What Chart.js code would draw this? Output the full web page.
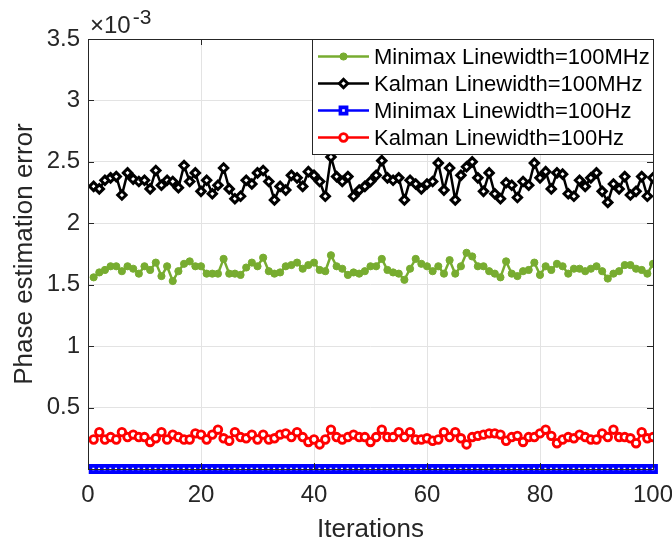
<!DOCTYPE html>
<html>
<head>
<meta charset="utf-8">
<script src="https://cdn.jsdelivr.net/npm/chart.js@4.4.1/dist/chart.umd.min.js"></script>
<style>
  html, body { margin: 0; padding: 0; background: #fff; }
  #wrap { width: 672px; height: 544px; position: relative; }
</style>
</head>
<body>
<div id="wrap"><canvas id="chart"></canvas></div>
<script>
// values are in units of 1e-3 (axis shows "x10^-3")
const iterations = Array.from({ length: 100 }, (_, i) => i + 1);

const minimax100MHz = [
  1.56, 1.60, 1.62, 1.65, 1.65, 1.61, 1.65, 1.63, 1.59, 1.65, 1.62, 1.68, 1.57, 1.65, 1.53, 1.61, 1.67,
  1.69, 1.65, 1.65, 1.59, 1.59, 1.59, 1.71, 1.59, 1.59, 1.58, 1.64, 1.68, 1.65, 1.72, 1.61, 1.59, 1.60,
  1.65, 1.66, 1.68, 1.63, 1.66, 1.68, 1.62, 1.61, 1.74, 1.65, 1.63, 1.58, 1.60, 1.59, 1.61, 1.65, 1.65,
  1.71, 1.62, 1.60, 1.59, 1.54, 1.63, 1.71, 1.67, 1.65, 1.61, 1.65, 1.59, 1.70, 1.59, 1.65, 1.76,
  1.73, 1.65, 1.65, 1.61, 1.59, 1.56, 1.69, 1.59, 1.57, 1.61, 1.62, 1.68, 1.58, 1.65, 1.62, 1.67, 1.65,
  1.59, 1.63, 1.63, 1.61, 1.63, 1.65, 1.61, 1.55, 1.59, 1.61, 1.66, 1.66, 1.63, 1.62, 1.59, 1.67
];

const kalman100MHz = [
  2.30, 2.28, 2.35, 2.37, 2.38, 2.23, 2.41, 2.36, 2.34, 2.35, 2.28, 2.43, 2.31, 2.35, 2.34, 2.29, 2.47,
  2.34, 2.41, 2.26, 2.35, 2.24, 2.31, 2.45, 2.28, 2.20, 2.22, 2.35, 2.32, 2.41, 2.43, 2.34, 2.19, 2.30,
  2.27, 2.39, 2.37, 2.30, 2.42, 2.39, 2.34, 2.22, 2.54, 2.38, 2.34, 2.38, 2.22, 2.27, 2.30, 2.34, 2.39,
  2.51, 2.37, 2.35, 2.37, 2.19, 2.35, 2.32, 2.28, 2.32, 2.34, 2.49, 2.27, 2.45, 2.19, 2.39, 2.46,
  2.50, 2.37, 2.26, 2.41, 2.24, 2.20, 2.33, 2.31, 2.21, 2.34, 2.31, 2.49, 2.37, 2.42, 2.28, 2.41, 2.40,
  2.24, 2.22, 2.35, 2.30, 2.37, 2.41, 2.26, 2.17, 2.32, 2.28, 2.38, 2.23, 2.26, 2.38, 2.22, 2.37
];

const minimax100Hz = [
  0, 0, 0, 0, 0, 0, 0, 0, 0, 0, 0, 0, 0, 0, 0, 0, 0, 0, 0, 0,
  0, 0, 0, 0, 0, 0, 0, 0, 0, 0, 0, 0, 0, 0, 0, 0, 0, 0, 0, 0,
  0, 0, 0, 0, 0, 0, 0, 0, 0, 0, 0, 0, 0, 0, 0, 0, 0, 0, 0, 0,
  0, 0, 0, 0, 0, 0, 0, 0, 0, 0, 0, 0, 0, 0, 0, 0, 0, 0, 0, 0,
  0, 0, 0, 0, 0, 0, 0, 0, 0, 0, 0, 0, 0, 0, 0, 0, 0, 0, 0, 0
];

const kalman100Hz = [
  0.24, 0.30, 0.24, 0.26, 0.24, 0.30, 0.26, 0.28, 0.26, 0.26, 0.22, 0.25, 0.30, 0.24, 0.28, 0.26, 0.24,
  0.24, 0.29, 0.28, 0.24, 0.28, 0.32, 0.25, 0.23, 0.30, 0.26, 0.25, 0.28, 0.24, 0.28, 0.24, 0.25, 0.28,
  0.29, 0.26, 0.30, 0.26, 0.22, 0.24, 0.20, 0.24, 0.32, 0.26, 0.24, 0.26, 0.28, 0.26, 0.26, 0.22, 0.26,
  0.32, 0.26, 0.26, 0.30, 0.26, 0.30, 0.24, 0.24, 0.25, 0.23, 0.24, 0.30, 0.26, 0.30, 0.25, 0.20,
  0.26, 0.27, 0.28, 0.29, 0.29, 0.28, 0.23, 0.26, 0.27, 0.22, 0.26, 0.26, 0.29, 0.32, 0.27, 0.21, 0.24,
  0.26, 0.25, 0.28, 0.26, 0.24, 0.24, 0.29, 0.26, 0.32, 0.26, 0.26, 0.25, 0.21, 0.30, 0.25, 0.26
];

const seriesNames = [
  'Minimax Linewidth=100MHz',
  'Kalman Linewidth=100MHz',
  'Minimax Linewidth=100Hz',
  'Kalman Linewidth=100Hz'
];
const xTicks = [0, 20, 40, 60, 80, 100];
const yTicks = [0, 0.5, 1, 1.5, 2, 2.5, 3, 3.5];

const FONT = '"Liberation Sans", Arial, Helvetica, sans-serif';
const AXIS = '#262626';
const GRID = '#e3e3e3';

const toPoints = arr => arr.map((v, i) => ({ x: iterations[i], y: v }));

// matlab style box, inward ticks, exponent label and legend
const matlabBox = {
  id: 'matlabBox',
  afterDatasetsDraw(chart) {
    const { ctx, chartArea: a, scales } = chart;
    ctx.save();
    ctx.strokeStyle = AXIS;
    ctx.lineWidth = 1;
    ctx.beginPath();
    const tl = 6;
    xTicks.forEach(t => {
      const px = Math.round(scales.x.getPixelForValue(t)) + 0.5;
      ctx.moveTo(px, a.bottom); ctx.lineTo(px, a.bottom - tl);
      ctx.moveTo(px, a.top); ctx.lineTo(px, a.top + tl);
    });
    yTicks.forEach(t => {
      const py = Math.round(scales.y.getPixelForValue(t)) + 0.5;
      ctx.moveTo(a.left, py); ctx.lineTo(a.left + tl, py);
      ctx.moveTo(a.right, py); ctx.lineTo(a.right - tl, py);
    });
    ctx.stroke();
    ctx.strokeRect(Math.round(a.left) + 0.5, Math.round(a.top) + 0.5,
      Math.round(a.right - a.left), Math.round(a.bottom - a.top));

    // exponent label
    ctx.fillStyle = AXIS;
    ctx.textBaseline = 'alphabetic';
    ctx.textAlign = 'left';
    ctx.font = '24px ' + FONT;
    ctx.fillText('\u00d710', a.left + 2, a.top - 6);
    const w = ctx.measureText('\u00d710').width;
    ctx.font = '21px ' + FONT;
    ctx.fillText('-3', a.left + 4 + w, a.top - 15);

    // legend
    const lw = 341, lh = 115;
    const lx = a.right - lw, ly = a.top;
    ctx.fillStyle = '#fff';
    ctx.fillRect(lx, ly, lw, lh);
    ctx.lineWidth = 1;
    ctx.strokeStyle = AXIS;
    ctx.strokeRect(Math.round(lx) + 0.5, Math.round(ly) + 0.5, lw, lh);
    ctx.font = '22px ' + FONT;
    ctx.textBaseline = 'middle';
    chart.data.datasets.forEach((ds, i) => {
      const cy = ly + 17.5 + i * 27;
      ctx.strokeStyle = ds.borderColor;
      ctx.lineWidth = ds.borderWidth;
      ctx.beginPath();
      ctx.moveTo(lx + 6, cy); ctx.lineTo(lx + 57, cy);
      ctx.stroke();
      ctx.fillStyle = ds.pointBackgroundColor;
      ctx.strokeStyle = ds.pointBorderColor;
      ctx.lineWidth = ds.pointBorderWidth;
      Chart.helpers.drawPoint(ctx, { pointStyle: ds.pointStyle, radius: ds.pointRadius, borderWidth: ds.pointBorderWidth }, lx + 31.5, cy);
      ctx.fillStyle = '#000';
      ctx.fillText(ds.label, lx + 62, cy + 1);
    });
    ctx.restore();
  }
};

new Chart(document.getElementById('chart'), {
  type: 'line',
  data: {
    datasets: [
      {
        label: seriesNames[0], data: toPoints(minimax100MHz),
        borderColor: '#77ac30', borderWidth: 2.5,
        pointStyle: 'circle', pointRadius: 3.6, pointBorderWidth: 1,
        pointBackgroundColor: '#77ac30', pointBorderColor: '#77ac30'
      },
      {
        label: seriesNames[1], data: toPoints(kalman100MHz),
        borderColor: '#000000', borderWidth: 2.5,
        pointStyle: 'rectRot', pointRadius: 4.2, pointBorderWidth: 3,
        pointBackgroundColor: '#ffffff', pointBorderColor: '#000000'
      },
      {
        label: seriesNames[2], data: toPoints(minimax100Hz),
        borderColor: '#0000ff', borderWidth: 2.5, clip: false,
        pointStyle: 'rect', pointRadius: 4.4, pointBorderWidth: 3.6,
        pointBackgroundColor: '#ffffff', pointBorderColor: '#0000ff'
      },
      {
        label: seriesNames[3], data: toPoints(kalman100Hz),
        borderColor: '#ff0000', borderWidth: 2.5,
        pointStyle: 'circle', pointRadius: 3.8, pointBorderWidth: 2.8,
        pointBackgroundColor: '#ffffff', pointBorderColor: '#ff0000'
      }
    ]
  },
  options: {
    responsive: true,
    maintainAspectRatio: false,
    animation: false,
    events: [],
    layout: { padding: { top: 39, right: 19, left: 0, bottom: 0 } },
    plugins: { legend: { display: false }, tooltip: { enabled: false } },
    scales: {
      x: {
        type: 'linear', min: 0, max: 100,
        afterFit: s => { s.height = 75; s.paddingLeft = 0; s.paddingRight = 0; },
        afterBuildTicks: s => { s.ticks = xTicks.map(v => ({ value: v })); },
        grid: { color: GRID, drawTicks: false },
        border: { display: false },
        ticks: { color: AXIS, font: { family: FONT, size: 24 }, padding: 12, maxRotation: 0 },
        title: { display: true, text: 'Iterations', color: AXIS, font: { family: FONT, size: 26, lineHeight: 1 }, padding: { top: 0, bottom: 1 } }
      },
      y: {
        type: 'linear', min: 0, max: 3.5,
        afterFit: s => { s.width = 88; s.paddingTop = 0; s.paddingBottom = 0; },
        afterBuildTicks: s => { s.ticks = yTicks.map(v => ({ value: v })); },
        grid: { color: GRID, drawTicks: false },
        border: { display: false },
        ticks: {
          color: AXIS, font: { family: FONT, size: 24 }, padding: 8,
          callback: v => (v === 0 ? '' : String(Number(v.toFixed(1))))
        },
        title: { display: true, text: 'Phase estimation error', color: AXIS, font: { family: FONT, size: 26 }, padding: { top: 9, bottom: 0 } }
      }
    }
  },
  plugins: [matlabBox]
});
</script>
</body>
</html>
